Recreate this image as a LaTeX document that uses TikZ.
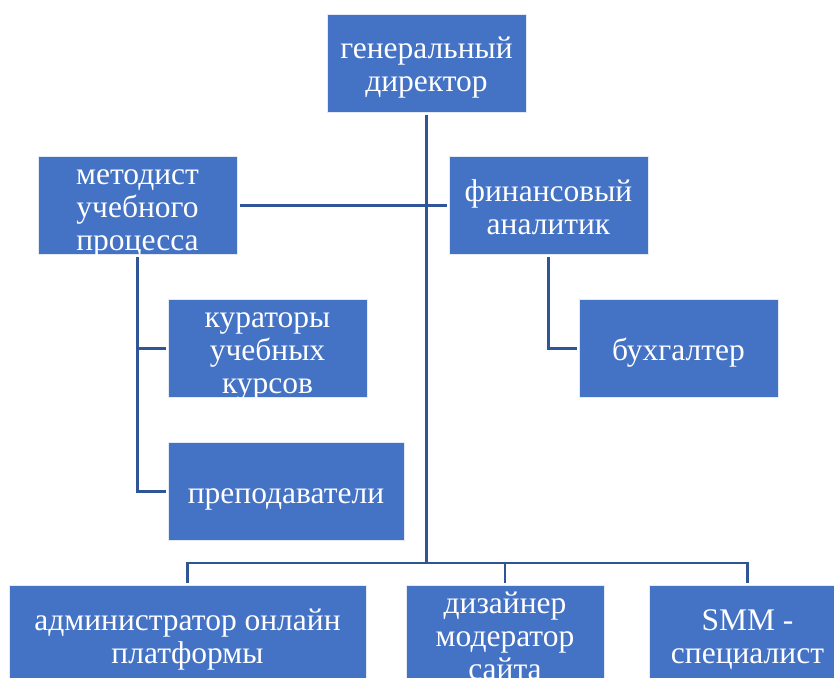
\documentclass[tikz,border=0pt]{standalone}
\usepackage{fontspec}
\setmainfont{Liberation Serif}
\definecolor{boxblue}{HTML}{4472C4}
\definecolor{lineblue}{HTML}{2F5597}
\newcommand{\bt}[1]{\smash{\raisebox{-12pt}{\begin{tabular}{@{}c@{}}#1\end{tabular}}}}
\begin{document}
\begin{tikzpicture}[x=1pt,y=-1pt,
  box/.style={rectangle, fill=boxblue, draw=white!85!boxblue, line width=0.8pt,
    text=white, inner sep=0pt, outer sep=2.5pt,
    minimum width=199pt, minimum height=98pt,
    font=\fontsize{31.5}{33}\selectfont},
  conn/.style={draw=lineblue, line width=2.6pt}]
\clip (0,0) rectangle (834,677);
\fill[white] (0,0) rectangle (834,677);
\node[box] (dir) at (426.5,63) {\bt{генеральный\\директор}};
\node[box] (met) at (137.5,205.5) {\bt{методист\\учебного\\процесса}};
\node[box] (fin) at (548.5,205.5) {\bt{финансовый\\аналитик}};
\node[box] (kur) at (267.5,348.5) {\bt{кураторы\\учебных\\курсов}};
\node[box] (buh) at (678.5,348.5) {\bt{бухгалтер}};
\node[box, minimum width=236pt] (pre) at (286,491.5) {\bt{преподаватели}};
\node[box, minimum width=357pt] (adm) at (187.5,634.5) {\bt{администратор онлайн\\платформы}};
\node[box, minimum width=198pt] (des) at (505,634.5) {\bt{дизайнер\\модератор\\сайта}};
\node[box, minimum width=197pt] (smm) at (747.5,634.5) {\bt{SMM -\\специалист}};
\coordinate (bus) at (426.5,563);
\draw[conn] (dir.south) -- (bus);
\draw[conn] (adm.north) |- (bus) -| (smm.north);
\draw[conn] (des.north) -- (des.north |- bus);
\draw[conn] (met.east) -- (fin.west);
\draw[conn] (met.south) |- (kur.west);
\draw[conn] (met.south) |- (pre.west);
\draw[conn] (fin.south) |- (buh.west);
\end{tikzpicture}
\end{document}
